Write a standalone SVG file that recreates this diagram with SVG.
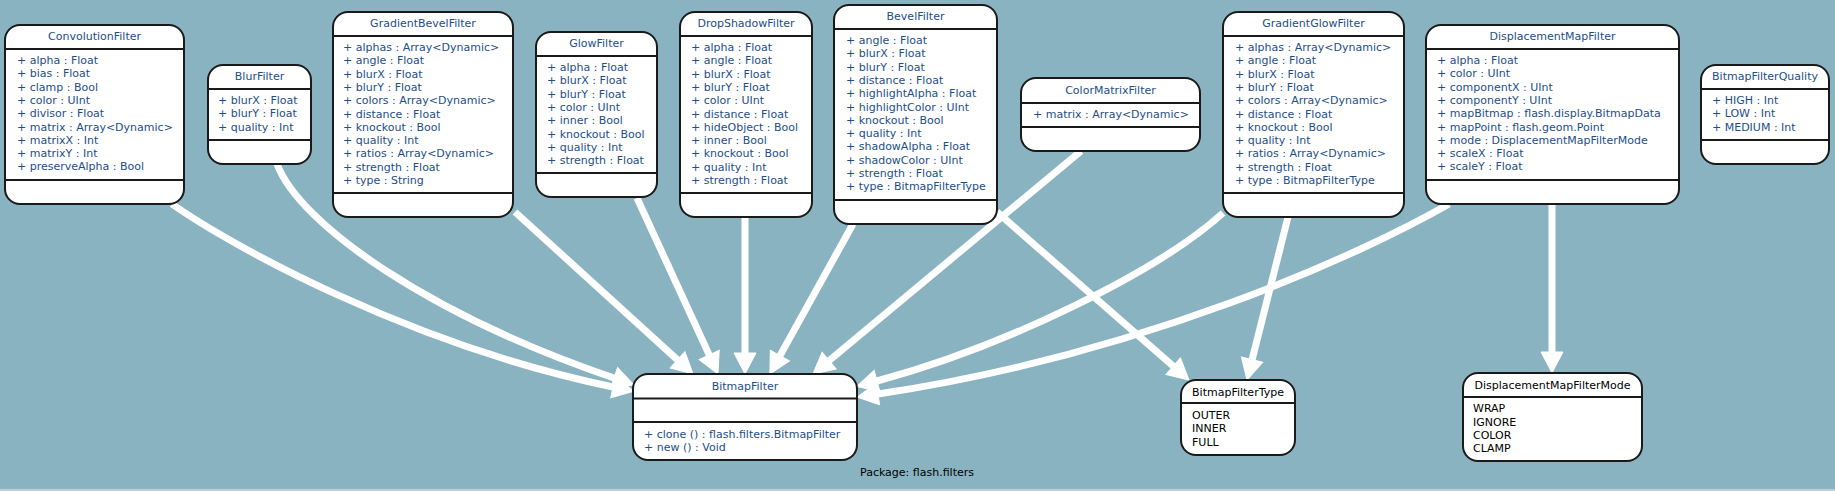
<svg xmlns="http://www.w3.org/2000/svg" width="1835" height="491" viewBox="0 0 1835 491">
<style>
.bx{fill:#fff;stroke:#1a1a1a;stroke-width:2}
.dv{stroke:#1a1a1a;stroke-width:2.2}
text{font-family:"DejaVu Sans","Liberation Sans",sans-serif;font-size:11px}
.t{fill:#1d4e89;text-anchor:middle}
.m{fill:#1d4e89}
.et{fill:#000;text-anchor:middle}
.e{fill:#000}
.c{fill:none;stroke:#fff;stroke-width:7}
</style>
<defs>
<marker id="ah" markerUnits="userSpaceOnUse" markerWidth="26" markerHeight="26" viewBox="0 0 26 26" refX="2" refY="13" orient="auto">
<path d="M2,2 L23,13 L2,24 z" fill="#fff" stroke="#fff" stroke-width="1"/>
</marker>
</defs>
<rect x="0" y="0" width="1835" height="491" fill="#8ab3c1"/>
<rect x="0" y="489" width="1835" height="2" fill="#b7d0d9"/>

<g id="connectors">
<path class="c" marker-end="url(#ah)" d="M172,204 C230,245 410,345 613,387"/>
<path class="c" marker-end="url(#ah)" d="M277,164 C300,225 430,315 614,378"/>
<path class="c" marker-end="url(#ah)" d="M515,212 L677.5,359.8"/>
<path class="c" marker-end="url(#ah)" d="M637,198 L709.2,354.9"/>
<path class="c" marker-end="url(#ah)" d="M745,217 L745,353"/>
<path class="c" marker-end="url(#ah)" d="M853,224 L780,355.6"/>
<path class="c" marker-end="url(#ah)" d="M1081,151 L829.1,360.6"/>
<path class="c" marker-end="url(#ah)" d="M1223,213 C1160,270 1010,345 877,381"/>
<path class="c" marker-end="url(#ah)" d="M1449,204 C1360,255 1140,355 878,394"/>
<path class="c" marker-end="url(#ah)" d="M997,212 L1173.2,366.2"/>
<path class="c" marker-end="url(#ah)" d="M1288,217 L1252.1,359.6"/>
<path class="c" marker-end="url(#ah)" d="M1552,204 L1552,352"/>
</g>

<g id="ConvolutionFilter">
<rect class="bx" x="5" y="25" width="179" height="179" rx="15"/>
<line class="dv" x1="5" y1="49" x2="184" y2="49"/>
<line class="dv" x1="5" y1="180" x2="184" y2="180"/>
<text class="t" x="94.5" y="39.5">ConvolutionFilter</text>
<text class="m" x="17" y="64">+ alpha : Float</text>
<text class="m" x="17" y="77.3">+ bias : Float</text>
<text class="m" x="17" y="90.6">+ clamp : Bool</text>
<text class="m" x="17" y="103.9">+ color : UInt</text>
<text class="m" x="17" y="117.2">+ divisor : Float</text>
<text class="m" x="17" y="130.5">+ matrix : Array&lt;Dynamic&gt;</text>
<text class="m" x="17" y="143.8">+ matrixX : Int</text>
<text class="m" x="17" y="157.1">+ matrixY : Int</text>
<text class="m" x="17" y="170.4">+ preserveAlpha : Bool</text>
</g>

<g id="BlurFilter">
<rect class="bx" x="208" y="65" width="103" height="99" rx="15"/>
<line class="dv" x1="208" y1="89" x2="311" y2="89"/>
<line class="dv" x1="208" y1="140" x2="311" y2="140"/>
<text class="t" x="259.5" y="80">BlurFilter</text>
<text class="m" x="218" y="104">+ blurX : Float</text>
<text class="m" x="218" y="117.3">+ blurY : Float</text>
<text class="m" x="218" y="130.6">+ quality : Int</text>
</g>

<g id="GradientBevelFilter">
<rect class="bx" x="333" y="12" width="180" height="205" rx="15"/>
<line class="dv" x1="333" y1="36" x2="513" y2="36"/>
<line class="dv" x1="333" y1="193" x2="513" y2="193"/>
<text class="t" x="423" y="27">GradientBevelFilter</text>
<text class="m" x="343" y="51">+ alphas : Array&lt;Dynamic&gt;</text>
<text class="m" x="343" y="64.3">+ angle : Float</text>
<text class="m" x="343" y="77.6">+ blurX : Float</text>
<text class="m" x="343" y="90.9">+ blurY : Float</text>
<text class="m" x="343" y="104.2">+ colors : Array&lt;Dynamic&gt;</text>
<text class="m" x="343" y="117.5">+ distance : Float</text>
<text class="m" x="343" y="130.8">+ knockout : Bool</text>
<text class="m" x="343" y="144.1">+ quality : Int</text>
<text class="m" x="343" y="157.4">+ ratios : Array&lt;Dynamic&gt;</text>
<text class="m" x="343" y="170.7">+ strength : Float</text>
<text class="m" x="343" y="184">+ type : String</text>
</g>

<g id="GlowFilter">
<rect class="bx" x="536" y="32" width="121" height="165" rx="15"/>
<line class="dv" x1="536" y1="56" x2="657" y2="56"/>
<line class="dv" x1="536" y1="173" x2="657" y2="173"/>
<text class="t" x="596.5" y="47">GlowFilter</text>
<text class="m" x="547" y="71">+ alpha : Float</text>
<text class="m" x="547" y="84.3">+ blurX : Float</text>
<text class="m" x="547" y="97.6">+ blurY : Float</text>
<text class="m" x="547" y="110.9">+ color : UInt</text>
<text class="m" x="547" y="124.2">+ inner : Bool</text>
<text class="m" x="547" y="137.5">+ knockout : Bool</text>
<text class="m" x="547" y="150.8">+ quality : Int</text>
<text class="m" x="547" y="164.1">+ strength : Float</text>
</g>

<g id="DropShadowFilter">
<rect class="bx" x="680" y="12" width="132" height="205" rx="15"/>
<line class="dv" x1="680" y1="36" x2="812" y2="36"/>
<line class="dv" x1="680" y1="193" x2="812" y2="193"/>
<text class="t" x="746" y="27">DropShadowFilter</text>
<text class="m" x="691" y="51">+ alpha : Float</text>
<text class="m" x="691" y="64.3">+ angle : Float</text>
<text class="m" x="691" y="77.6">+ blurX : Float</text>
<text class="m" x="691" y="90.9">+ blurY : Float</text>
<text class="m" x="691" y="104.2">+ color : UInt</text>
<text class="m" x="691" y="117.5">+ distance : Float</text>
<text class="m" x="691" y="130.8">+ hideObject : Bool</text>
<text class="m" x="691" y="144.1">+ inner : Bool</text>
<text class="m" x="691" y="157.4">+ knockout : Bool</text>
<text class="m" x="691" y="170.7">+ quality : Int</text>
<text class="m" x="691" y="184">+ strength : Float</text>
</g>

<g id="BevelFilter">
<rect class="bx" x="834" y="5" width="163" height="219" rx="15"/>
<line class="dv" x1="834" y1="29" x2="997" y2="29"/>
<line class="dv" x1="834" y1="200" x2="997" y2="200"/>
<text class="t" x="915.5" y="20">BevelFilter</text>
<text class="m" x="846" y="44">+ angle : Float</text>
<text class="m" x="846" y="57.3">+ blurX : Float</text>
<text class="m" x="846" y="70.6">+ blurY : Float</text>
<text class="m" x="846" y="83.9">+ distance : Float</text>
<text class="m" x="846" y="97.2">+ highlightAlpha : Float</text>
<text class="m" x="846" y="110.5">+ highlightColor : UInt</text>
<text class="m" x="846" y="123.8">+ knockout : Bool</text>
<text class="m" x="846" y="137.1">+ quality : Int</text>
<text class="m" x="846" y="150.4">+ shadowAlpha : Float</text>
<text class="m" x="846" y="163.7">+ shadowColor : UInt</text>
<text class="m" x="846" y="177">+ strength : Float</text>
<text class="m" x="846" y="190.3">+ type : BitmapFilterType</text>
</g>

<g id="ColorMatrixFilter">
<rect class="bx" x="1021" y="78" width="179" height="73" rx="15"/>
<line class="dv" x1="1021" y1="103" x2="1200" y2="103"/>
<line class="dv" x1="1021" y1="127" x2="1200" y2="127"/>
<text class="t" x="1110.5" y="94">ColorMatrixFilter</text>
<text class="m" x="1033" y="118">+ matrix : Array&lt;Dynamic&gt;</text>
</g>

<g id="GradientGlowFilter">
<rect class="bx" x="1223" y="12" width="181" height="205" rx="15"/>
<line class="dv" x1="1223" y1="36" x2="1404" y2="36"/>
<line class="dv" x1="1223" y1="193" x2="1404" y2="193"/>
<text class="t" x="1313.5" y="27">GradientGlowFilter</text>
<text class="m" x="1235" y="51">+ alphas : Array&lt;Dynamic&gt;</text>
<text class="m" x="1235" y="64.3">+ angle : Float</text>
<text class="m" x="1235" y="77.6">+ blurX : Float</text>
<text class="m" x="1235" y="90.9">+ blurY : Float</text>
<text class="m" x="1235" y="104.2">+ colors : Array&lt;Dynamic&gt;</text>
<text class="m" x="1235" y="117.5">+ distance : Float</text>
<text class="m" x="1235" y="130.8">+ knockout : Bool</text>
<text class="m" x="1235" y="144.1">+ quality : Int</text>
<text class="m" x="1235" y="157.4">+ ratios : Array&lt;Dynamic&gt;</text>
<text class="m" x="1235" y="170.7">+ strength : Float</text>
<text class="m" x="1235" y="184">+ type : BitmapFilterType</text>
</g>

<g id="DisplacementMapFilter">
<rect class="bx" x="1426" y="25" width="253" height="179" rx="15"/>
<line class="dv" x1="1426" y1="49" x2="1679" y2="49"/>
<line class="dv" x1="1426" y1="180" x2="1679" y2="180"/>
<text class="t" x="1552.5" y="39.5">DisplacementMapFilter</text>
<text class="m" x="1437" y="64">+ alpha : Float</text>
<text class="m" x="1437" y="77.3">+ color : UInt</text>
<text class="m" x="1437" y="90.6">+ componentX : UInt</text>
<text class="m" x="1437" y="103.9">+ componentY : UInt</text>
<text class="m" x="1437" y="117.2">+ mapBitmap : flash.display.BitmapData</text>
<text class="m" x="1437" y="130.5">+ mapPoint : flash.geom.Point</text>
<text class="m" x="1437" y="143.8">+ mode : DisplacementMapFilterMode</text>
<text class="m" x="1437" y="157.1">+ scaleX : Float</text>
<text class="m" x="1437" y="170.4">+ scaleY : Float</text>
</g>

<g id="BitmapFilterQuality">
<rect class="bx" x="1701" y="65" width="128" height="99" rx="15"/>
<line class="dv" x1="1701" y1="89" x2="1829" y2="89"/>
<line class="dv" x1="1701" y1="140" x2="1829" y2="140"/>
<text class="t" x="1765" y="80">BitmapFilterQuality</text>
<text class="m" x="1712" y="104">+ HIGH : Int</text>
<text class="m" x="1712" y="117.3">+ LOW : Int</text>
<text class="m" x="1712" y="130.6">+ MEDIUM : Int</text>
</g>

<g id="BitmapFilter">
<rect class="bx" x="633" y="374" width="224" height="86" rx="15"/>
<line class="dv" x1="633" y1="398.5" x2="857" y2="398.5"/>
<line class="dv" x1="633" y1="422" x2="857" y2="422"/>
<text class="t" x="745" y="390">BitmapFilter</text>
<text class="m" x="644" y="438">+ clone () : flash.filters.BitmapFilter</text>
<text class="m" x="644" y="451.3">+ new () : Void</text>
</g>

<g id="BitmapFilterType">
<rect class="bx" x="1181" y="380" width="114" height="75" rx="15"/>
<line class="dv" x1="1181" y1="403" x2="1295" y2="403"/>
<text class="et" x="1238" y="395.5">BitmapFilterType</text>
<text class="e" x="1192" y="419">OUTER</text>
<text class="e" x="1192" y="432.3">INNER</text>
<text class="e" x="1192" y="445.6">FULL</text>
</g>

<g id="DisplacementMapFilterMode">
<rect class="bx" x="1463" y="373" width="179" height="88" rx="15"/>
<line class="dv" x1="1463" y1="397" x2="1642" y2="397"/>
<text class="et" x="1552.5" y="389">DisplacementMapFilterMode</text>
<text class="e" x="1473" y="412">WRAP</text>
<text class="e" x="1473" y="425.5">IGNORE</text>
<text class="e" x="1473" y="439">COLOR</text>
<text class="e" x="1473" y="452">CLAMP</text>
</g>

<text class="et" x="917" y="476">Package: flash.filters</text>
</svg>
